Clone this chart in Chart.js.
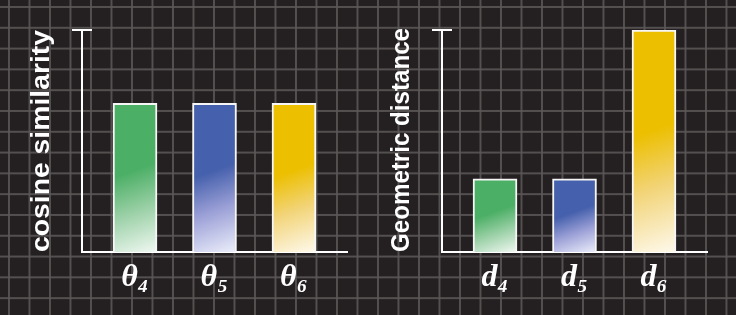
<!DOCTYPE html>
<html><head><meta charset="utf-8">
<script src="https://cdn.jsdelivr.net/npm/chart.js@4/dist/chart.umd.min.js"></script>
<style>
html,body{margin:0;padding:0;}
body{width:736px;height:315px;overflow:hidden;position:relative;background-color:#241f20;
background-image:linear-gradient(to right, rgba(92,88,88,0.85) 2px, transparent 2px),linear-gradient(to bottom, rgba(92,88,88,0.85) 2px, transparent 2px);
background-size:20.5px 20.8px;background-position:8px 6px;}
.wrap{position:absolute;top:0;width:368px;height:315px;}
</style></head><body>
<div class="wrap" style="left:0"><canvas id="c1" width="368" height="315"></canvas></div>
<div class="wrap" style="left:360px"><canvas id="c2" width="368" height="315"></canvas></div>
<script>
const positions = [0, 1, 2];
const labelsLeft = ['θ₄', 'θ₅', 'θ₆'];
const valuesLeft = [0.67, 0.67, 0.67];
const labelsRight = ['d₄', 'd₅', 'd₆'];
const valuesRight = [0.33, 0.33, 1.0];
const titleLeft = 'cosine similarity';
const titleRight = 'Geometric distance';
const topColors = ['#4caf66', '#4560ac', '#ecbf00'];
const midColors = ['#98cfa4', '#9a9fd6', '#f2d478'];
const paleColors = ['#f0f8f2', '#eceefa', '#fef9ec'];

function barFill(values) {
  return function (c) {
    const chart = c.chart;
    const i = c.dataIndex;
    if (!chart.chartArea || !chart.scales.x || !chart.scales.y) return topColors[i];
    const xs = chart.scales.x, ys = chart.scales.y;
    const cx = xs.getPixelForValue(positions[i]);
    const yT = ys.getPixelForValue(values[i]);
    const yB = ys.getPixelForValue(0);
    const h = yB - yT, w = 44;
    const ux = 0.34, uy = 0.94;
    const sx = cx, sy = yT + 0.45 * h;
    const L = (w / 2) * ux + (yB - sy) * uy;
    const g = chart.ctx.createLinearGradient(sx, sy, sx + ux * L, sy + uy * L);
    g.addColorStop(0, topColors[i]);
    g.addColorStop(0.45, midColors[i]);
    g.addColorStop(1, paleColors[i]);
    return g;
  };
}

const capPlugin = {
  id: 'cap',
  afterDraw(chart) {
    const { ctx, chartArea: { left, top } } = chart;
    ctx.save();
    ctx.strokeStyle = '#ffffff';
    ctx.lineWidth = 2;
    ctx.beginPath();
    ctx.moveTo(left - 10, top);
    ctx.lineTo(left + 10, top);
    ctx.stroke();
    ctx.restore();
  }
};

// y-axis title, drawn rotated and fitted to the axis height
const axisTitlePlugin = {
  id: 'axisTitle',
  afterDraw(chart, args, opts) {
    const { ctx, chartArea } = chart;
    ctx.save();
    ctx.font = 'bold ' + opts.size + 'px "Liberation Sans", Arial, sans-serif';
    ctx.fillStyle = '#ffffff';
    ctx.textAlign = 'center';
    ctx.textBaseline = 'alphabetic';
    const w = ctx.measureText(opts.text).width;
    const len = chartArea.bottom - chartArea.top + opts.extra;
    const cy = (chartArea.top + chartArea.bottom) / 2 + opts.shift;
    ctx.translate(opts.baseline, cy);
    ctx.rotate(-Math.PI / 2);
    ctx.scale(len / w, 1);
    ctx.fillText(opts.text, 0, 0);
    ctx.restore();
  }
};

function makeChart(id, labels, values, title, titleSize, extra, shift) {
  return new Chart(document.getElementById(id), {
    type: 'bar',
    data: {
      datasets: [{
        data: positions.map((p, i) => ({ x: p, y: values[i] })),
        backgroundColor: barFill(values),
        borderColor: '#f6f6f6',
        borderWidth: 2,
        barThickness: 44
      }]
    },
    options: {
      responsive: false,
      animation: false,
      devicePixelRatio: 1,
      layout: { padding: { left: 0, top: 30, right: 21, bottom: 0 } },
      plugins: {
        legend: { display: false }, tooltip: { enabled: false },
        axisTitle: { text: title, size: titleSize, baseline: 49, extra: extra, shift: shift }
      },
      scales: {
        x: {
          type: 'linear', min: -0.667, max: 2.667, z: 1, offset: false,
          grid: { display: false, drawTicks: false, offset: false },
          border: { color: '#ffffff', width: 2 },
          afterBuildTicks: s => { s.ticks = positions.map(v => ({ value: v })); },
          afterFit: s => { s.height = 63; },
          ticks: {
            color: '#ffffff', padding: 7, maxRotation: 0, autoSkip: false,
            font: { family: '"Liberation Serif", "DejaVu Serif", serif', size: 32, style: 'italic', weight: 'bold' },
            callback: v => labels[positions.indexOf(v)]
          }
        },
        y: {
          min: 0, max: 1, z: 1,
          grid: { display: false, drawTicks: false },
          border: { color: '#ffffff', width: 2 },
          ticks: { display: false },
          afterFit: s => { s.width = 82; }
        }
      }
    },
    plugins: [capPlugin, axisTitlePlugin]
  });
}

makeChart('c1', labelsLeft, valuesLeft, titleLeft, 26.5, 0, 0);
makeChart('c2', labelsRight, valuesRight, titleRight, 26, 2, -1);
</script>
</body></html>
